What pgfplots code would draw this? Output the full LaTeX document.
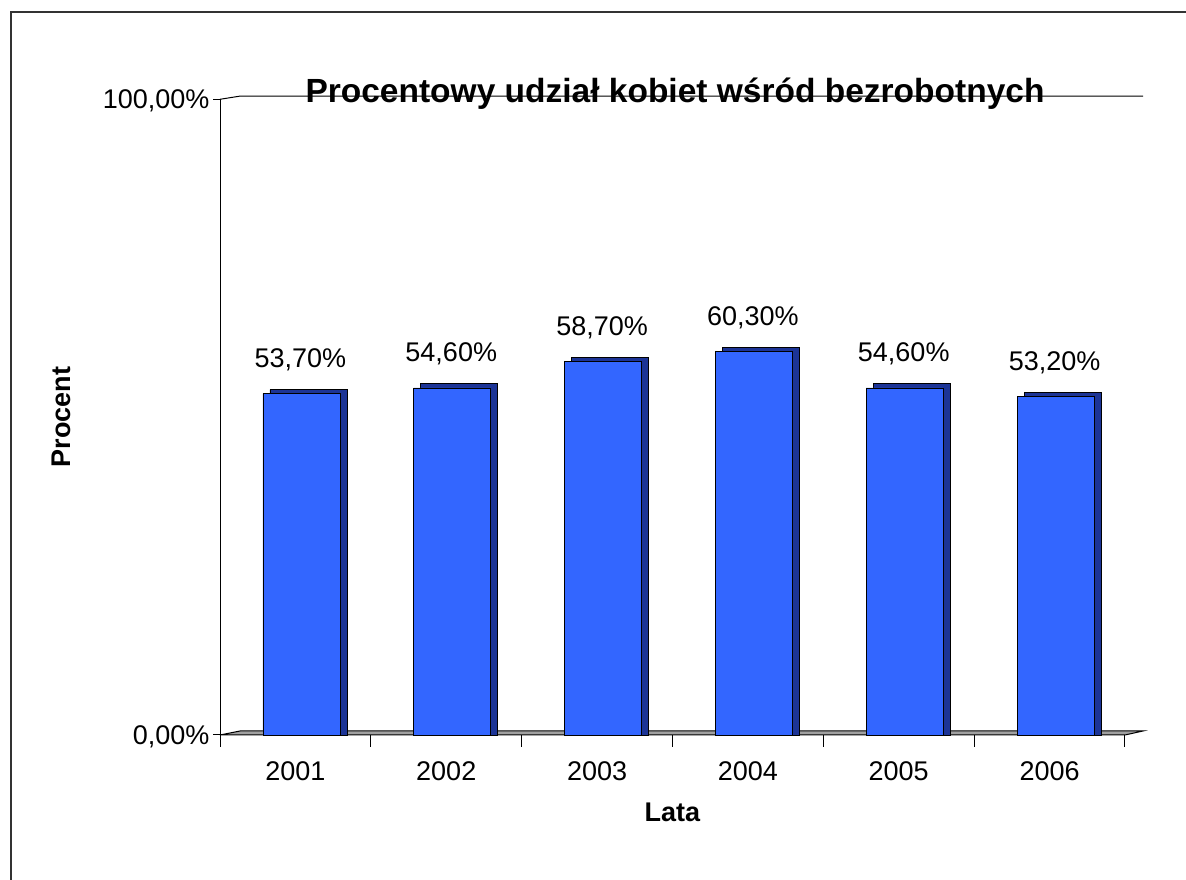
\documentclass[border=0pt]{standalone}
\usepackage{pgfplots}
\pgfplotsset{compat=1.18}
\usepackage{fontspec}
\setmainfont{Liberation Sans}
\definecolor{barfront}{RGB}{51,102,255}
\definecolor{barside}{RGB}{28,52,150}
\definecolor{floorgray}{RGB}{160,160,160}
\newcommand{\lbl}{\fontsize{27}{32}\selectfont}
\begin{document}
\begin{tikzpicture}[x=1pt,y=1pt]
\useasboundingbox (0,0) rectangle (1186,880);
\fill[white] (0,0) rectangle (1186,880);
\draw[line width=2pt, black!80] (11,-10) -- (11,868) -- (1200,868);
\begin{axis}[
  at={(220pt,145pt)}, anchor=south west,
  x=150.83pt, y=6.357pt,
  xmin=0.5, xmax=6.5, ymin=0, ymax=100,
  clip=false,
  axis line style={draw=none},
  tick align=outside,
  major tick length=7pt,
  xtick pos=bottom, ytick pos=left,
  ytick={0,100},
  yticklabels={{0,00\%},{100,00\%}},
  ytick style={black, line width=1pt},
  xtick={1,2,3,4,5,6},
  xticklabels={2001,2002,2003,2004,2005,2006},
  xtick style={draw=none},
  extra x ticks={0.5,1.5,2.5,3.5,4.5,5.5,6.5},
  extra x tick labels={},
  extra x tick style={major tick length=12pt, xtick style={draw=black, line width=1pt}},
  tick label style={font=\lbl},
  xticklabel style={anchor=base, yshift=-39pt},
  yticklabel style={anchor=base east, yshift=-9.7pt},
  xlabel={Lata}, ylabel={Procent},
  label style={font=\bfseries\lbl},
  xlabel style={at={(axis description cs:0.5,0)}, anchor=center, yshift=-77pt},
  ylabel style={at={(axis description cs:0,0.5)}, anchor=center, yshift=159pt},
  title={Procentowy udział kobiet wśród bezrobotnych},
  title style={font=\bfseries\fontsize{33.5}{40}\selectfont, at={(axis description cs:0.5,1)}, anchor=base, yshift=-9pt, xshift=2.5pt},
]
% floor
\addplot[fill=floorgray, draw=black, line width=1pt] coordinates {(0.5,0) (0.6326,0.63) (6.62,0.63) (6.5,0)} -- cycle;
% back wall top and left axis
\addplot[black, line width=1pt] coordinates {(0.5,100) (0.6326,100.5) (6.62,100.5)};
\addplot[black, line width=1pt] coordinates {(0.5,0) (0.5,100)};
% bar sides
\addplot[ybar, bar width=77pt, bar shift=13pt, fill=barside, draw=black, line width=0.8pt]
  coordinates {(1,54.33) (2,55.23) (3,59.33) (4,60.93) (5,55.23) (6,53.83)};
% bar fronts
\addplot[ybar, bar width=77pt, bar shift=6pt, fill=barfront, draw=black, line width=0.8pt,
  nodes near coords={\pgfmathprintnumber[fixed,zerofill,precision=2,use comma,assume math mode=true]{\pgfplotspointmeta}\%},
  every node near coord/.append style={font=\lbl, anchor=base, yshift=26pt, xshift=5pt, black}]
  coordinates {(1,53.7) (2,54.6) (3,58.7) (4,60.3) (5,54.6) (6,53.2)};
\end{axis}
\end{tikzpicture}
\end{document}
